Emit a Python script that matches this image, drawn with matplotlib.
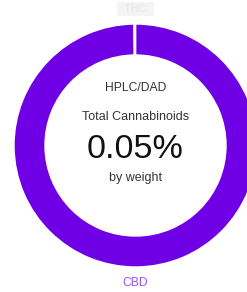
import matplotlib
matplotlib.use("Agg")
import matplotlib.pyplot as plt

labels = ["CBD", "THC"]
values = [0.05, 0.0001]
colors = ["#6f00e5", "#ffffff"]
method = "HPLC/DAD"
title = "Total Cannabinoids"
total = "0.05%"
unit = "by weight"

plt.rcParams['font.family'] = ['Liberation Sans', 'DejaVu Sans']

fig = plt.figure(figsize=(2.47, 2.92), dpi=100)
ax = fig.add_axes([0, 0, 1, 1])
cx, cy, R, w = 135.5, 145.5, 121.5, 31
ax.pie(values, colors=colors, startangle=-90, counterclock=True,
       center=(cx, cy), radius=R,
       wedgeprops=dict(width=w, edgecolor="white", linewidth=1.0))
ax.set_xlim(0, 247)
ax.set_ylim(292, 0)
ax.set_aspect('equal')
ax.axis('off')

ax.text(cx, 88, method, ha='center', va='center', fontsize=8.7, color='#333333')
ax.text(cx, 117.5, title, ha='center', va='center', fontsize=9, color='#333333')
ax.text(cx, 149, total, ha='center', va='center', fontsize=24.5, color='#111111')
ax.text(cx, 178, unit, ha='center', va='center', fontsize=9, color='#333333')
ax.text(cx, 283, labels[0], ha='center', va='center', fontsize=8.7, color='#9a55f0')
ax.text(cx, 9, "  " + labels[1] + "  ", ha='center', va='center', fontsize=7.5, color='#e6e6e6',
        bbox=dict(boxstyle='square,pad=0.2', facecolor='#f4f4f4', edgecolor='none'))

fig.savefig("out.png", dpi=100)
